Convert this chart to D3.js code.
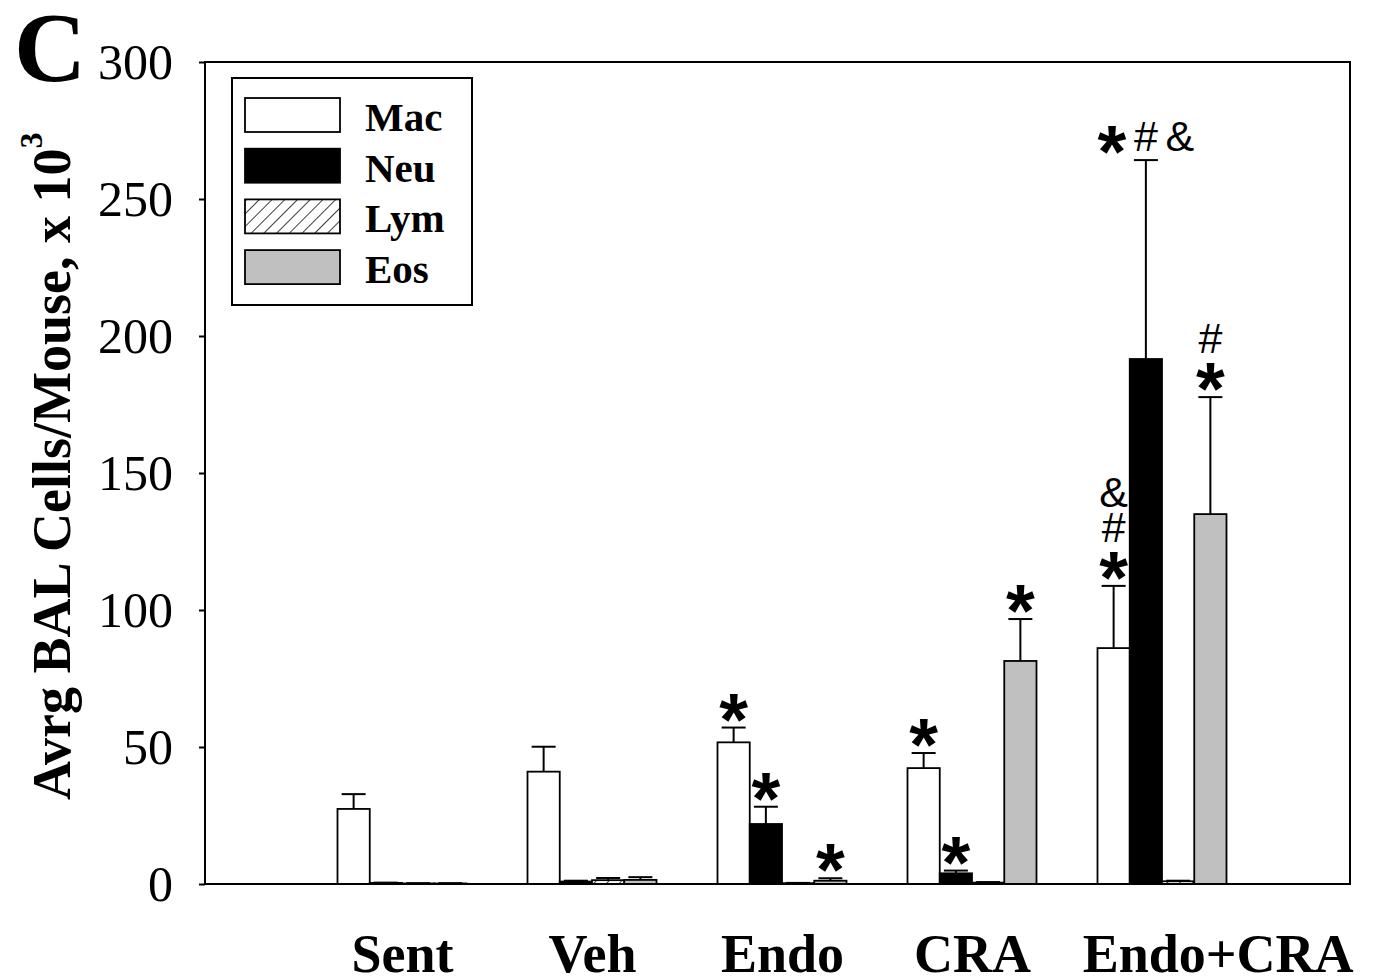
<!DOCTYPE html>
<html>
<head>
<meta charset="utf-8">
<script src="https://cdn.jsdelivr.net/npm/d3@7/dist/d3.min.js"></script>
<style>
  html, body { margin: 0; padding: 0; background: #fff; }
  svg { display: block; }
</style>
</head>
<body>
<svg id="chart" width="1373" height="979"></svg>
<script>
// ---------- data ----------
const groups = ["Sent", "Veh", "Endo", "CRA", "Endo+CRA"];
const seriesNames = ["Mac", "Neu", "Lym", "Eos"];
const mac    = [27.4, 41.0, 51.7, 42.3, 86.1];
const macErr = [5.4, 9.1, 5.4, 5.5, 22.7];
const neu    = [0.4, 0.9, 21.9, 3.9, 191.6];
const neuErr = [0.1, 0.3, 6.3, 1.0, 72.6];
const lym    = [0.2, 1.4, 0.3, 0.5, 1.0];
const lymErr = [0.1, 0.8, 0.1, 0.2, 0.2];
const eos    = [0.2, 1.5, 1.2, 81.4, 135.0];
const eosErr = [0.1, 1.0, 0.9, 15.3, 42.7];
const yTicks = [0, 50, 100, 150, 200, 250, 300];
// significance marks: [group, series, marks (bottom->top or left->right), layout]
const marks = [
  ["Endo", "Mac", ["*"], "v"],
  ["Endo", "Neu", ["*"], "v"],
  ["Endo", "Eos", ["*"], "v"],
  ["CRA", "Mac", ["*"], "v"],
  ["CRA", "Neu", ["*"], "v"],
  ["CRA", "Eos", ["*"], "v"],
  ["Endo+CRA", "Mac", ["*", "#", "&"], "v"],
  ["Endo+CRA", "Neu", ["*", "#", "&"], "h"],
  ["Endo+CRA", "Eos", ["*", "#"], "v"]
];

const values = { Mac: mac, Neu: neu, Lym: lym, Eos: eos };
const errors = { Mac: macErr, Neu: neuErr, Lym: lymErr, Eos: eosErr };

// ---------- layout ----------
const svg = d3.select("#chart");
const L = 205, R = 1350, T = 62, B = 884;

const y = d3.scaleLinear().domain([0, 300]).range([B, T]);
const x0 = d3.scalePoint().domain(groups).range([402, 1162]);
const x1 = d3.scaleBand().domain(seriesNames).range([-64.5, 64.5]).padding(0);

const defs = svg.append("defs");
defs.append("pattern")
  .attr("id", "hatch")
  .attr("patternUnits", "userSpaceOnUse")
  .attr("width", 9).attr("height", 9)
  .attr("patternTransform", "rotate(45)")
  .call(p => {
    p.append("rect").attr("width", 9).attr("height", 9).attr("fill", "#fff");
    p.append("line").attr("x1", 0).attr("y1", 0).attr("x2", 0).attr("y2", 9)
      .attr("stroke", "#000").attr("stroke-width", 1.5);
  });

const fills = { Mac: "#ffffff", Neu: "#000000", Lym: "url(#hatch)", Eos: "#c0c0c0" };

// bars data
const barData = [];
groups.forEach((g, i) => {
  seriesNames.forEach(s => {
    barData.push({ g, s, v: values[s][i], e: errors[s][i] });
  });
});

// bars
svg.append("g").selectAll("rect")
  .data(barData)
  .join("rect")
  .attr("x", d => x0(d.g) + x1(d.s))
  .attr("width", x1.bandwidth())
  .attr("y", d => y(d.v))
  .attr("height", d => y(0) - y(d.v))
  .attr("fill", d => fills[d.s])
  .attr("stroke", "#000")
  .attr("stroke-width", 1.8);

// error bars
const eb = svg.append("g").attr("stroke", "#000").attr("stroke-width", 2);
barData.forEach(d => {
  const cx = x0(d.g) + x1(d.s) + x1.bandwidth() / 2;
  eb.append("line").attr("x1", cx).attr("x2", cx)
    .attr("y1", y(d.v)).attr("y2", y(d.v + d.e));
  eb.append("line").attr("x1", cx - 12).attr("x2", cx + 12)
    .attr("y1", y(d.v + d.e)).attr("y2", y(d.v + d.e));
});

// frame
svg.append("rect")
  .attr("x", L).attr("y", T).attr("width", R - L).attr("height", B - T)
  .attr("fill", "none").attr("stroke", "#000").attr("stroke-width", 2);

// y axis
const yAxis = svg.append("g")
  .attr("transform", `translate(${L},0)`)
  .call(d3.axisLeft(y).tickValues(yTicks).tickSize(6).tickSizeOuter(0).tickPadding(26));
yAxis.select(".domain").remove();
yAxis.selectAll("line").attr("stroke", "#000").attr("stroke-width", 2);
yAxis.selectAll("text")
  .attr("font-family", "'Liberation Serif', 'Times New Roman', serif")
  .attr("font-size", 50).attr("fill", "#000");

// x axis
const xAxis = svg.append("g")
  .attr("transform", `translate(0,${B})`)
  .call(d3.axisBottom(x0).tickSize(0).tickSizeOuter(0));
xAxis.select(".domain").remove();
xAxis.selectAll("text")
  .attr("y", 88).attr("dy", 0)
  .attr("font-family", "'Liberation Serif', 'Times New Roman', serif")
  .attr("font-weight", "bold")
  .attr("font-size", 54).attr("fill", "#000");
// last label is pushed to the right edge in the original figure
xAxis.selectAll(".tick").filter(d => d === groups[groups.length - 1]).select("text")
  .attr("text-anchor", "end")
  .attr("x", 1353 - x0(groups[groups.length - 1]));

// y axis title
const yt = svg.append("text")
  .attr("transform", "translate(70,800) rotate(-90)")
  .attr("text-anchor", "start")
  .attr("font-family", "'Liberation Serif', 'Times New Roman', serif")
  .attr("font-weight", "bold")
  .attr("font-size", 54)
  .attr("fill", "#000");
yt.append("tspan").text("Avrg BAL Cells/Mouse, x 10");
yt.append("tspan").attr("dy", -28).attr("font-size", 32).text("3");

// panel letter
svg.append("text")
  .attr("x", 14).attr("y", 81)
  .attr("font-family", "'Liberation Serif', 'Times New Roman', serif")
  .attr("font-weight", "bold")
  .attr("font-size", 100)
  .attr("fill", "#000")
  .text("C");

// legend
const lg = svg.append("g");
lg.append("rect").attr("x", 232).attr("y", 78).attr("width", 240).attr("height", 227)
  .attr("fill", "#fff").attr("stroke", "#000").attr("stroke-width", 2);
seriesNames.forEach((s, i) => {
  const top = 98 + i * 50.7;
  lg.append("rect").attr("x", 245).attr("y", top).attr("width", 95).attr("height", 34)
    .attr("fill", fills[s]).attr("stroke", "#000").attr("stroke-width", 1.8);
  lg.append("text").attr("x", 365).attr("y", top + 33)
    .attr("font-family", "'Liberation Serif', 'Times New Roman', serif")
    .attr("font-weight", "bold").attr("font-size", 41).attr("fill", "#000")
    .text(s);
});

// significance marks
const mg = svg.append("g").attr("fill", "#000")
  .attr("font-family", "'Liberation Sans', Arial, sans-serif");
function drawMark(ch, cx, cy) {
  if (ch === "*") {
    mg.append("text").attr("x", cx).attr("y", cy + 41)
      .attr("text-anchor", "middle").attr("font-weight", "bold")
      .attr("font-size", 74).text(ch);
  } else {
    mg.append("text").attr("x", cx).attr("y", cy + 15)
      .attr("text-anchor", "middle").attr("font-size", 43).text(ch);
  }
}
marks.forEach(([g, s, list, dir]) => {
  const i = groups.indexOf(g);
  const cx = x0(g) + x1(s) + x1.bandwidth() / 2;
  const capY = y(values[s][i] + errors[s][i]);
  const baseY = capY - 24;
  list.forEach((ch, k) => {
    if (dir === "h") {
      drawMark(ch, cx + (k - (list.length - 1) / 2) * 34, baseY);
    } else {
      drawMark(ch, cx, baseY - k * 35);
    }
  });
});
</script>
</body>
</html>
